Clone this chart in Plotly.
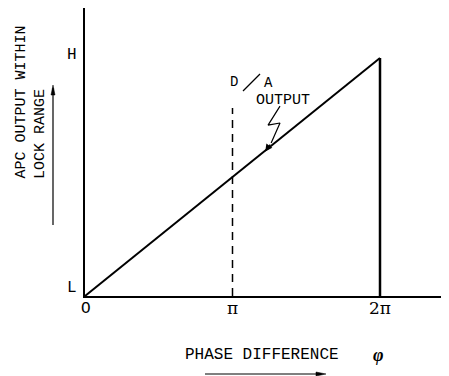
import plotly.graph_objects as go

# phase difference in units of pi, APC output normalised L=0 .. H=1
phase = [0, 1, 2]
apc_out = [0, 0.5, 1]
x_ticks = [1, 2]
x_tick_text = ["π", "2π"]
y_levels = [0, 1]
y_level_text = ["L", "H"]

mono = "Liberation Mono, Courier New, monospace"
ink = "black"

# page has an 8px body margin, so the figure is drawn 8px in from the top-left
OFF = 8
W, H = 449 - OFF, 376 - OFF
L, R, T, B = 85 - OFF, 0, 0, H - (296 - OFF)


def px(x):
    # page pixel -> paper x
    return (x - OFF - L) / (W - L - R)


def py(y):
    # page pixel -> paper y
    return (H - B - (y - OFF)) / (H - T - B)


def label(x, y, text, size=15, family=mono, **kw):
    d = dict(x=px(x), y=py(y), xref="paper", yref="paper", text=text, showarrow=False,
             xanchor="center", yanchor="middle", font=dict(family=family, size=size, color=ink))
    d.update(kw)
    return d


fig = go.Figure()

# sawtooth ramp within the lock range
fig.add_trace(go.Scatter(x=phase, y=apc_out, mode="lines",
                         line=dict(color=ink, width=2), showlegend=False, hoverinfo="skip"))
# drop back at 2pi
fig.add_trace(go.Scatter(x=[phase[-1], phase[-1]], y=[apc_out[-1], apc_out[0]], mode="lines",
                         line=dict(color=ink, width=2.5), showlegend=False, hoverinfo="skip"))
# dashed marker at pi
fig.add_trace(go.Scatter(x=[phase[1], phase[1]], y=[0, 0.79], mode="lines",
                         line=dict(color=ink, width=1.5, dash="8px,6px"), showlegend=False, hoverinfo="skip"))
# zigzag leader for the D/A output label
fig.add_trace(go.Scatter(x=[1.322, 1.241, 1.322, 1.262], y=[0.798, 0.718, 0.727, 0.643], mode="lines",
                         line=dict(color=ink, width=1.2), showlegend=False, hoverinfo="skip"))

ann = [
    dict(x=1.222, y=0.607, ax=1.262, ay=0.643, xref="x", yref="y", axref="x", ayref="y",
         showarrow=True, arrowhead=2, arrowsize=1.2, arrowwidth=1.2, arrowcolor=ink, text=""),
    label(234, 82, "D", size=14),
    label(268, 83, "A", size=14),
    label(254, 100, "OUTPUT", size=15, xanchor="left"),
    # origin and level labels
    label(86, 309, "O", size=16),
    label(72, 288, y_level_text[0], size=16),
    label(72, 55, y_level_text[1], size=16),
    # rotated y title, two lines bottom aligned
    label(21, 181, "APC OUTPUT WITHIN", textangle=-90, yanchor="bottom"),
    label(40, 181, "LOCK RANGE", textangle=-90, yanchor="bottom"),
    label(262, 355, "PHASE DIFFERENCE", size=16),
    label(378, 355, "<b><i>φ</i></b>", size=18, family="Liberation Serif, serif"),
]

fig.update_layout(
    width=W, height=H,
    margin=dict(l=L, r=R, t=T, b=B),
    paper_bgcolor="white", plot_bgcolor="white",
    annotations=ann,
    shapes=[
        # slash between D and A
        dict(type="line", xref="paper", yref="paper", x0=px(243), y0=py(91), x1=px(260), y1=py(74),
             line=dict(color=ink, width=1.2)),
        # arrow rule beside the y title
        dict(type="line", xref="paper", yref="paper", x0=px(53), x1=px(53), y0=py(225), y1=py(88),
             line=dict(color=ink, width=1.2)),
        dict(type="path", xref="paper", yref="paper",
             path="M {0},{1} L {2},{3} L {4},{1} Z".format(px(51), py(95), px(53), py(85), px(55)),
             fillcolor=ink, line=dict(color=ink, width=0.5)),
        # arrow rule under the x title
        dict(type="line", xref="paper", yref="paper", x0=px(205), x1=px(318), y0=py(374), y1=py(374),
             line=dict(color=ink, width=1.2)),
        dict(type="path", xref="paper", yref="paper",
             path="M {0},{1} L {2},{3} L {0},{4} Z".format(px(316), py(372), px(326), py(374), py(376)),
             fillcolor=ink, line=dict(color=ink, width=0.5)),
    ],
)

fig.update_xaxes(range=[0, (W - L - R) / 147.5], showgrid=False, zeroline=False,
                 showline=True, linecolor=ink, linewidth=2,
                 tickvals=x_ticks, ticktext=x_tick_text, ticks="", ticklabelstandoff=-4,
                 tickfont=dict(family="DejaVu Serif, serif", size=17, color=ink))
fig.update_yaxes(range=[0, (H - T - B) / 238], showgrid=False, zeroline=False,
                 showline=True, linecolor=ink, linewidth=2,
                 showticklabels=False, ticks="")

fig.write_html("out.html")
